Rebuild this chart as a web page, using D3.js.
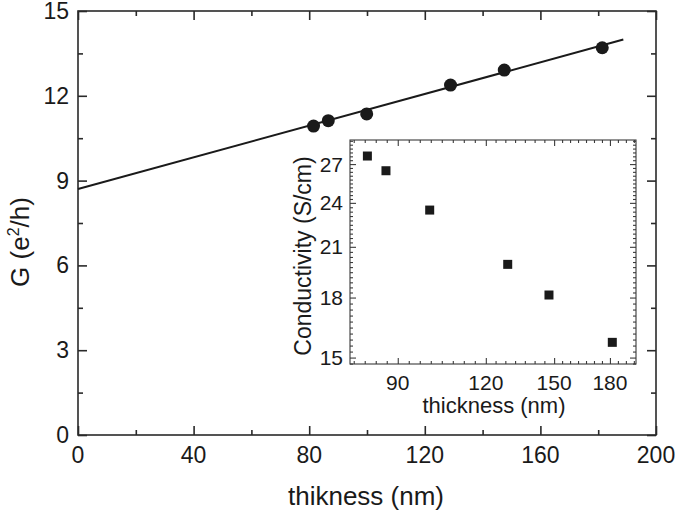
<!DOCTYPE html>
<html>
<head>
<meta charset="utf-8">
<script src="https://cdn.jsdelivr.net/npm/d3@7"></script>
<style>
  html, body { margin: 0; padding: 0; background: #fff; }
  svg { display: block; }
  text { font-family: "Liberation Sans", Arial, sans-serif; fill: #1a1a1a; }
</style>
</head>
<body>
<svg id="chart" width="675" height="512"></svg>
<script>
// ---- data ----
const thickness = [81.5, 86.6, 99.9, 128.9, 147.5, 181.4];
const conductance = [10.93, 11.12, 11.36, 12.38, 12.91, 13.70];
const fitX = [0, 188.7];
const fitY = [8.70, 13.99];
const conductivity = [27.67, 26.46, 23.48, 19.91, 18.14, 15.71];

const mainXTicks = [0, 40, 80, 120, 160, 200];
const mainYTicks = [0, 3, 6, 9, 12, 15];
const insetXTicks = [90, 120, 150, 180];
const insetYTicks = [15, 18, 21, 24, 27];

// ---- layout ----
const svg = d3.select("#chart");
const ink = "#1a1a1a";

const x = d3.scaleLinear().domain([0, 200]).range([78, 656]);
const y = d3.scaleLinear().domain([0, 15]).range([435, 11]);

const ix = d3.scaleLog().domain([77, 196]).range([350, 636]);
const iy = d3.scaleLog().domain([14.71, 29.05]).range([364, 140]);

// minor tick helpers
function linMinor(majors, sub) {
  const out = [];
  for (let i = 0; i < majors.length - 1; i++) {
    const a = majors[i], b = majors[i + 1];
    for (let k = 1; k < sub; k++) out.push(a + (b - a) * k / sub);
  }
  return out;
}
function logMinor(majors, subs, dom) {
  const out = [];
  for (let i = 0; i < majors.length - 1; i++) {
    const a = majors[i], b = majors[i + 1], n = subs[i];
    const r = Math.pow(b / a, 1 / n);
    for (let k = 1; k < n; k++) out.push(a * Math.pow(r, k));
    if (i === 0) { let v = a / r; while (v > dom[0]) { out.push(v); v /= r; } }
    if (i === majors.length - 2) { let v = b * r; while (v < dom[1]) { out.push(v); v *= r; } }
  }
  return out;
}

function drawAxes(g, xs, ys, xMaj, xMin, yMaj, yMin, majLen, minLen, stroke, sw) {
  const [x0, x1] = xs.range();
  const [y0, y1] = ys.range(); // y0 bottom, y1 top
  const styleAxis = sel => {
    sel.select(".domain").remove();
    sel.selectAll("line").attr("stroke", stroke).attr("stroke-width", sw);
    sel.selectAll("text").remove();
  };
  const mk = (axisFn, scale, vals, len, tx, ty) =>
    g.append("g").attr("transform", `translate(${tx},${ty})`)
      .call(axisFn(scale).tickValues(vals).tickSize(-len).tickFormat(""))
      .call(styleAxis);
  mk(d3.axisBottom, xs, xMaj, majLen, 0, y0);
  mk(d3.axisBottom, xs, xMin, minLen, 0, y0);
  mk(d3.axisTop, xs, xMaj, majLen, 0, y1);
  mk(d3.axisTop, xs, xMin, minLen, 0, y1);
  mk(d3.axisLeft, ys, yMaj, majLen, x0, 0);
  mk(d3.axisLeft, ys, yMin, minLen, x0, 0);
  mk(d3.axisRight, ys, yMaj, majLen, x1, 0);
  mk(d3.axisRight, ys, yMin, minLen, x1, 0);
  g.append("rect").attr("x", x0).attr("y", y1)
    .attr("width", x1 - x0).attr("height", y0 - y1)
    .attr("fill", "none").attr("stroke", stroke).attr("stroke-width", sw);
}

// ---- main plot ----
const main = svg.append("g");
drawAxes(main, x, y,
  mainXTicks, linMinor(mainXTicks, 2),
  mainYTicks, linMinor(mainYTicks, 2),
  9, 5, "#2a2a2a", 1.6);

main.append("g").selectAll("text").data(mainXTicks).join("text")
  .attr("x", d => x(d)).attr("y", 463)
  .attr("text-anchor", "middle").attr("font-size", 23).text(d => d);
main.append("g").selectAll("text").data(mainYTicks).join("text")
  .attr("x", 69).attr("y", d => y(d) + 8)
  .attr("text-anchor", "end").attr("font-size", 23).text(d => d);

main.append("text").attr("x", 366).attr("y", 505)
  .attr("text-anchor", "middle").attr("font-size", 26).text("thikness (nm)");

const yt = main.append("text")
  .attr("transform", "translate(29,242) rotate(-90)")
  .attr("text-anchor", "middle").attr("font-size", 26);
yt.append("tspan").text("G (e");
yt.append("tspan").attr("dy", -10).attr("font-size", 16).text("2");
yt.append("tspan").attr("dy", 10).text("/h)");

// fit line
main.append("path")
  .datum(fitX.map((v, i) => [v, fitY[i]]))
  .attr("d", d3.line().x(d => x(d[0])).y(d => y(d[1])))
  .attr("fill", "none").attr("stroke", ink).attr("stroke-width", 2);

// circles
main.append("g").selectAll("circle").data(thickness).join("circle")
  .attr("cx", d => x(d)).attr("cy", (d, i) => y(conductance[i]))
  .attr("r", 6.5).attr("fill", ink);

// ---- inset ----
const inset = svg.append("g");
inset.append("rect").attr("x", 350).attr("y", 140).attr("width", 286).attr("height", 224)
  .attr("fill", "#fff");
drawAxes(inset, ix, iy,
  insetXTicks, logMinor(insetXTicks, [8, 7, 7], ix.domain()),
  insetYTicks, logMinor(insetYTicks, [10, 10, 10, 10], iy.domain()),
  6, 3, "#3a3a3a", 1.1);

inset.append("g").selectAll("text").data(insetXTicks).join("text")
  .attr("x", d => ix(d)).attr("y", 390)
  .attr("text-anchor", "middle").attr("font-size", 21).text(d => d);
inset.append("g").selectAll("text").data(insetYTicks).join("text")
  .attr("x", 343).attr("y", d => iy(d) + 7.5)
  .attr("text-anchor", "end").attr("font-size", 21).text(d => d);

inset.append("text").attr("x", 494).attr("y", 413)
  .attr("text-anchor", "middle").attr("font-size", 22).text("thickness (nm)");
inset.append("text")
  .attr("transform", "translate(311,256) rotate(-90)")
  .attr("text-anchor", "middle").attr("font-size", 23).text("Conductivity (S/cm)");

const sq = 9;
inset.append("g").selectAll("rect").data(thickness).join("rect")
  .attr("x", d => ix(d) - sq / 2).attr("y", (d, i) => iy(conductivity[i]) - sq / 2)
  .attr("width", sq).attr("height", sq).attr("fill", ink);
</script>
</body>
</html>
